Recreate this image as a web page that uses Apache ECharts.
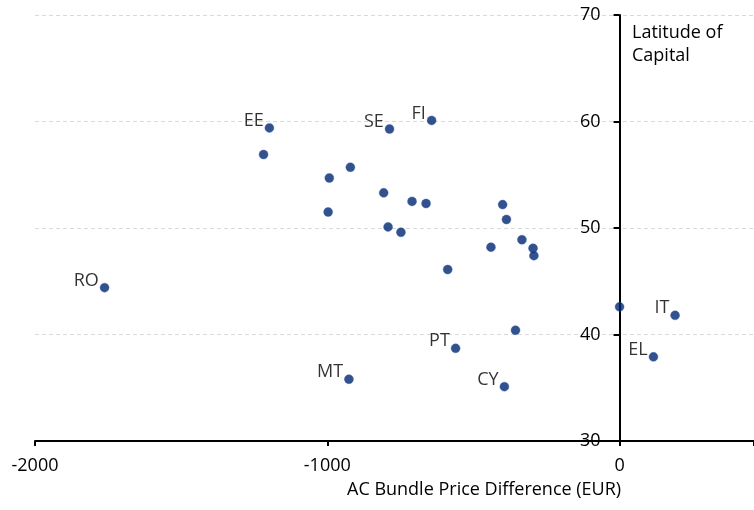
<!DOCTYPE html>
<html>
<head>
<meta charset="utf-8">
<script src="https://cdn.jsdelivr.net/npm/echarts@6/dist/echarts.min.js"></script>
<style>
  html, body { margin: 0; padding: 0; background: #fff; }
  #chart { width: 754px; height: 510px; }
</style>
</head>
<body>
<div id="chart"></div>
<script>
// AC bundle price difference (EUR) vs latitude of capital
var priceDiff = [-1762, -1198, -1218, -787, -643, -921, -993, -807, -710, -662,
                 -997, -792, -748, -400, -387, -440, -334, -296, -293, -588,
                 -561, -356, -926, -394, 0, 190, 116];
var latitude  = [44.4, 59.4, 56.9, 59.3, 60.1, 55.7, 54.7, 53.3, 52.5, 52.3,
                 51.5, 50.1, 49.6, 52.2, 50.8, 48.2, 48.9, 48.1, 47.4, 46.1,
                 38.7, 40.4, 35.8, 35.1, 42.6, 41.8, 37.9];
var labels    = ['RO', 'EE', '', 'SE', 'FI', '', '', '', '', '',
                 '', '', '', '', '', '', '', '', '', '',
                 'PT', '', 'MT', 'CY', '', 'IT', 'EL'];

var xTicks = [-2000, -1000, 0];
var yTicks = [30, 40, 50, 60, 70];

var FONT = '"Open Sans", "Noto Sans", sans-serif';
var FS = 18;

var GRID_L = 35, GRID_R = 0, GRID_T = 15, GRID_B = 69, W = 754;
var X_MIN = xTicks[0], X_MAX = 460;
// pixel x of value 0: the visible y axis is drawn on a second grid starting there
var zeroPx = GRID_L + (0 - X_MIN) / (X_MAX - X_MIN) * (W - GRID_L - GRID_R);

var pts = [];
for (var i = 0; i < priceDiff.length; i++) {
  pts.push({ value: [priceDiff[i], latitude[i]], name: labels[i] });
}

var myChart = echarts.init(document.getElementById('chart'), null, { renderer: 'canvas' });

var option = {
  animation: false,
  backgroundColor: '#fff',
  textStyle: { fontFamily: FONT },
  grid: [
    { left: GRID_L, right: GRID_R, top: GRID_T, bottom: GRID_B, outerBoundsMode: 'none', containLabel: false },
    { left: zeroPx, right: GRID_R, top: GRID_T, bottom: GRID_B, outerBoundsMode: 'none', containLabel: false }
  ],
  xAxis: [
    {
      gridIndex: 0,
      type: 'value',
      min: X_MIN,
      max: X_MAX,
      interval: 1000,
      axisLine: { onZero: false, lineStyle: { color: '#000', width: 2 } },
      axisTick: { show: true, length: 5, lineStyle: { color: '#000', width: 2 } },
      axisLabel: {
        margin: 16, color: '#000', fontSize: FS, fontFamily: FONT,
        formatter: function (v) { return xTicks.indexOf(v) >= 0 ? String(v) : ''; }
      },
      splitLine: { show: false }
    },
    { gridIndex: 1, type: 'value', show: false, min: 0, max: 1 }
  ],
  yAxis: [
    {
      gridIndex: 0,
      type: 'value',
      min: yTicks[0],
      max: yTicks[yTicks.length - 1],
      interval: 10,
      axisLine: { show: false },
      axisTick: { show: false },
      axisLabel: { show: false },
      splitLine: { show: true, lineStyle: { color: '#d9d9d9', type: [4, 3], width: 1 } }
    },
    {
      gridIndex: 1,
      type: 'value',
      position: 'left',
      min: yTicks[0],
      max: yTicks[yTicks.length - 1],
      interval: 10,
      axisLine: { show: true, onZero: false, lineStyle: { color: '#000', width: 2 } },
      axisTick: { show: true, length: 6, lineStyle: { color: '#000', width: 2 } },
      axisLabel: { margin: 19, color: '#000', fontSize: FS, fontFamily: FONT },
      splitLine: { show: false }
    }
  ],
  graphic: [
    {
      type: 'text', left: 632, top: 21, z: 10,
      style: { text: 'Latitude of\nCapital', fill: '#000', font: FS + 'px ' + FONT, lineHeight: 23 }
    },
    {
      type: 'text', left: 347, top: 481, z: 10,
      style: { text: 'AC Bundle Price Difference (EUR)', fill: '#000', font: FS + 'px ' + FONT }
    }
  ],
  series: [{
    type: 'scatter',
    xAxisIndex: 0,
    yAxisIndex: 0,
    symbolSize: 9,
    z: 5,
    itemStyle: { color: '#00266f', borderColor: '#2f5fb3', borderWidth: 0.5 },
    label: {
      show: true,
      position: 'left',
      distance: 1,
      offset: [0, -7],
      formatter: '{b}',
      color: '#000',
      fontSize: FS,
      fontFamily: FONT
    },
    data: pts
  }]
};

myChart.setOption(option);
</script>
</body>
</html>
